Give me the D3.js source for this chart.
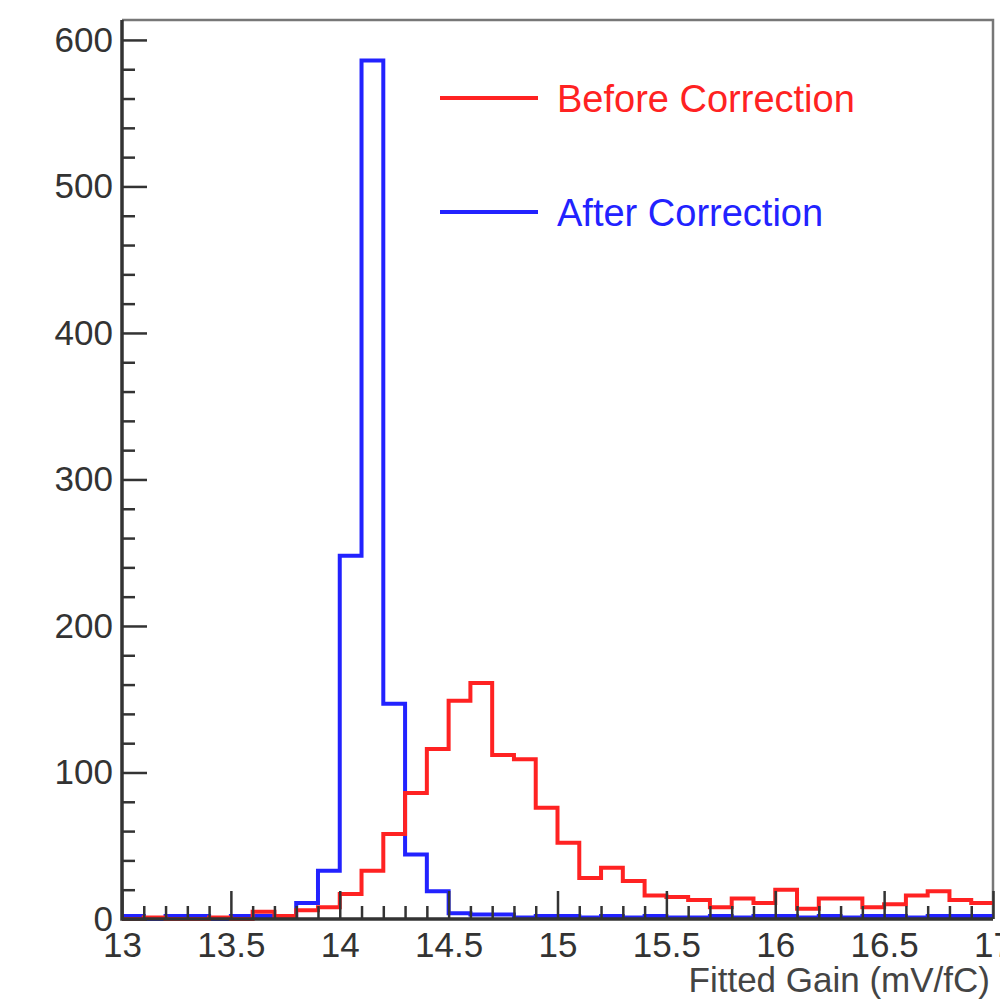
<!DOCTYPE html>
<html>
<head>
<meta charset="utf-8">
<script src="https://cdn.jsdelivr.net/npm/d3@7"></script>
<style>
  html, body { margin: 0; padding: 0; background: #fff; }
  svg { display: block; font-family: "Liberation Sans", Arial, Helvetica, sans-serif; }
</style>
</head>
<body>
<svg id="chart" width="1000" height="1002"></svg>
<script>
// Lower edge of each 0.1 mV/fC bin
const binLow = [13.0, 13.1, 13.2, 13.3, 13.4, 13.5, 13.6, 13.7, 13.8, 13.9,
                14.0, 14.1, 14.2, 14.3, 14.4, 14.5, 14.6, 14.7, 14.8, 14.9,
                15.0, 15.1, 15.2, 15.3, 15.4, 15.5, 15.6, 15.7, 15.8, 15.9,
                16.0, 16.1, 16.2, 16.3, 16.4, 16.5, 16.6, 16.7, 16.8, 16.9];
const binWidth = 0.1;

// Channel counts per bin
const beforeCounts = [0, 1, 0, 0, 1, 0, 5, 2, 6, 8,
                      17, 33, 58, 86, 116, 149, 161, 112, 109, 76,
                      52, 28, 35, 26, 16, 15, 13, 8, 14, 11,
                      20, 7, 14, 14, 8, 10, 16, 19, 13, 11];
const afterCounts  = [2, 0, 2, 2, 0, 2, 2, 1, 11, 33,
                      248, 586, 147, 44, 19, 4, 3, 3, 1, 2,
                      2, 1, 2, 1, 2, 1, 1, 2, 1, 2,
                      2, 1, 2, 1, 2, 2, 1, 2, 2, 2];

const seriesNames = ["Before Correction", "After Correction"];
const seriesColors = ["#ff2222", "#2222ff"];

const xMajorTicks = [13, 13.5, 14, 14.5, 15, 15.5, 16, 16.5, 17];
const xMinorTicks = [13.1, 13.2, 13.3, 13.4, 13.6, 13.7, 13.8, 13.9,
                     14.1, 14.2, 14.3, 14.4, 14.6, 14.7, 14.8, 14.9,
                     15.1, 15.2, 15.3, 15.4, 15.6, 15.7, 15.8, 15.9,
                     16.1, 16.2, 16.3, 16.4, 16.6, 16.7, 16.8, 16.9];
const yMajorTicks = [0, 100, 200, 300, 400, 500, 600];
const yMinorTicks = [20, 40, 60, 80, 120, 140, 160, 180, 220, 240, 260, 280,
                     320, 340, 360, 380, 420, 440, 460, 480, 520, 540, 560, 580];
const xTitle = "Fitted Gain (mV/fC)";

// Frame geometry
const frameLeft = 122, frameRight = 993, frameTop = 20, frameBottom = 919;
const xMin = 13, xMax = 17, yMax = 613.6;

const svg = d3.select("#chart");
const x = d3.scaleLinear().domain([xMin, xMax]).range([frameLeft, frameRight]);
const y = d3.scaleLinear().domain([0, yMax]).range([frameBottom, frameTop]);

svg.append("defs").append("clipPath").attr("id", "frame")
  .append("rect").attr("x", frameLeft).attr("y", frameTop - 2)
  .attr("width", frameRight - frameLeft).attr("height", frameBottom - frameTop + 4);

// Frame: top and right edges
svg.append("path")
  .attr("d", `M${frameLeft},${frameTop}H${frameRight}V${frameBottom}`)
  .attr("fill", "none").attr("stroke", "#777").attr("stroke-width", 2.5);

// Histogram outlines (step style)
function stepPoints(counts) {
  const pts = counts.map((c, i) => [binLow[i], c]);
  pts.push([binLow[binLow.length - 1] + binWidth, counts[counts.length - 1]]);
  return pts;
}
const line = d3.line()
  .x(d => x(d[0])).y(d => y(d[1]))
  .curve(d3.curveStepAfter);

const hist = svg.append("g").attr("clip-path", "url(#frame)");
[[afterCounts, seriesColors[1]], [beforeCounts, seriesColors[0]]].forEach(([counts, color]) => {
  hist.append("path")
    .datum(stepPoints(counts))
    .attr("d", line)
    .attr("fill", "none")
    .attr("stroke", color)
    .attr("stroke-width", 4)
    .attr("stroke-linejoin", "miter");
});

// Y axis: major ticks with labels, minor ticks without
const yAxis = svg.append("g").attr("transform", `translate(${frameLeft},0)`)
  .call(d3.axisLeft(y).tickValues(yMajorTicks).tickSize(-25).tickSizeOuter(0).tickPadding(9)
        .tickFormat(d3.format("d")));
yAxis.select(".domain").remove();
yAxis.selectAll(".tick line").attr("stroke", "#333").attr("stroke-width", 2.5);
yAxis.selectAll(".tick text").attr("font-size", 35).attr("fill", "#333")
  .attr("font-family", "Liberation Sans, Arial, sans-serif");

const yMinor = svg.append("g").attr("transform", `translate(${frameLeft},0)`)
  .call(d3.axisLeft(y).tickValues(yMinorTicks)
        .tickSize(-13).tickSizeOuter(0).tickFormat(""));
yMinor.select(".domain").remove();
yMinor.selectAll(".tick line").attr("stroke", "#333").attr("stroke-width", 2.5);

// X axis
const xAxis = svg.append("g").attr("transform", `translate(0,${frameBottom})`)
  .call(d3.axisBottom(x).tickValues(xMajorTicks).tickSize(-28).tickSizeOuter(0).tickPadding(13)
        .tickFormat(d => String(d)));
xAxis.select(".domain").remove();
xAxis.selectAll(".tick line").attr("stroke", "#333").attr("stroke-width", 2.5);
xAxis.selectAll(".tick text").attr("font-size", 35).attr("fill", "#333")
  .attr("font-family", "Liberation Sans, Arial, sans-serif");

const xMinor = svg.append("g").attr("transform", `translate(0,${frameBottom})`)
  .call(d3.axisBottom(x).tickValues(xMinorTicks).tickSize(-13).tickSizeOuter(0).tickFormat(""));
xMinor.select(".domain").remove();
xMinor.selectAll(".tick line").attr("stroke", "#333").attr("stroke-width", 2.5);

// Axis lines (left and bottom)
svg.append("path")
  .attr("d", `M${frameLeft},${frameTop}V${frameBottom}H${frameRight}`)
  .attr("fill", "none").attr("stroke", "#333").attr("stroke-width", 3.5);

// Axis title
svg.append("text")
  .attr("x", 990).attr("y", 992)
  .attr("text-anchor", "end")
  .attr("font-size", 35).attr("fill", "#444")
  .text(xTitle);

// Legend
const legend = svg.append("g");
seriesNames.forEach((name, i) => {
  const ly = 98 + i * 114;
  legend.append("line")
    .attr("x1", 440).attr("x2", 538).attr("y1", ly).attr("y2", ly)
    .attr("stroke", seriesColors[i]).attr("stroke-width", 4);
  legend.append("text")
    .attr("x", 557).attr("y", ly + 14)
    .attr("font-size", 38).attr("fill", seriesColors[i])
    .text(name);
});
</script>
</body>
</html>
